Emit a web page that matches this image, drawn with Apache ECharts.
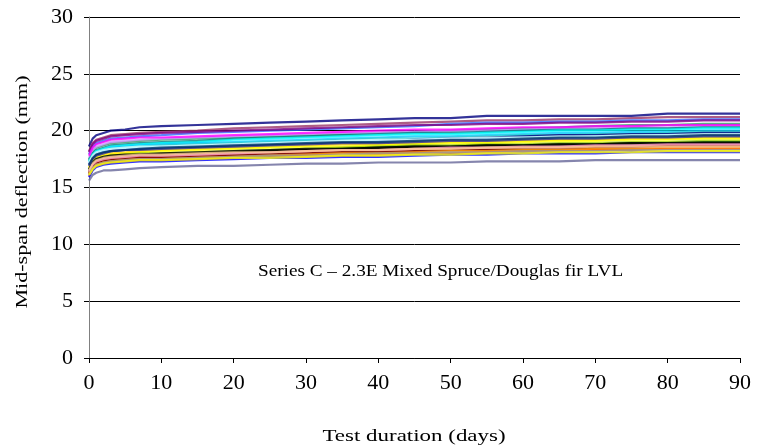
<!DOCTYPE html>
<html><head><meta charset="utf-8">
<script src="https://cdn.jsdelivr.net/npm/echarts@6/dist/echarts.min.js"></script>
<style>html,body{margin:0;padding:0;background:#fff}#c{width:758px;height:448px}</style>
</head><body><div id="c"></div>
<script>
var days = [0, 0.5, 1, 2, 3, 5, 7, 10, 15, 20, 25, 30, 35, 40, 45, 50, 55, 60, 65, 70, 75, 80, 85, 90];
var xTicks = [0, 10, 20, 30, 40, 50, 60, 70, 80, 90];
var yTicks = [0, 5, 10, 15, 20, 25, 30];
var colors = ['#000080','#993366','#3366FF','#800080','#339966','#CC99FF','#008080','#00FFFF','#00CCFF','#33CCCC','#000080','#99CCFF','#CCFFFF','#FFCC00','#FFFF00','#99CC00','#003300','#333300','#000000','#993300','#800000','#FF9900','#FF6600','#FF99CC','#FFCC99','#0000FF','#666699','#969696','#333399','#003366','#FF00FF','#FFFF00'];
var s1 = [18.6,19.3,19.6,19.8,20.0,20.1,20.3,20.4,20.5,20.6,20.7,20.8,20.9,21.0,21.1,21.1,21.3,21.3,21.3,21.3,21.3,21.5,21.5,21.5];
var s2 = [18.2,18.9,19.2,19.4,19.6,19.7,19.8,19.9,20.0,20.2,20.3,20.4,20.5,20.6,20.7,20.8,20.9,20.9,21.0,21.0,21.1,21.2,21.2,21.2];
var s3 = [17.9,18.6,18.9,19.1,19.3,19.4,19.5,19.6,19.8,19.9,20.0,20.1,20.2,20.3,20.4,20.6,20.7,20.7,20.8,20.8,20.9,20.9,21.0,21.0];
var s4 = [18.1,18.8,19.1,19.3,19.5,19.6,19.7,19.8,19.9,20.0,20.1,20.2,20.3,20.4,20.5,20.5,20.6,20.6,20.7,20.7,20.8,20.8,20.9,20.9];
var s5 = [17.5,18.2,18.5,18.7,18.9,19.0,19.1,19.2,19.3,19.4,19.5,19.6,19.7,19.8,19.9,20.0,20.1,20.2,20.3,20.4,20.5,20.5,20.6,20.6];
var s6 = [17.6,18.3,18.6,18.8,19.0,19.1,19.2,19.3,19.4,19.5,19.6,19.7,19.8,19.8,19.9,20.0,20.0,20.1,20.2,20.2,20.3,20.3,20.4,20.4];
var s7 = [17.4,18.0,18.3,18.5,18.7,18.8,18.9,19.0,19.1,19.3,19.4,19.5,19.6,19.7,19.8,19.8,19.9,20.0,20.1,20.1,20.2,20.2,20.3,20.3];
var s8 = [17.3,17.9,18.2,18.4,18.6,18.7,18.8,18.9,19.0,19.2,19.3,19.4,19.5,19.6,19.7,19.7,19.8,19.9,20.0,20.0,20.1,20.1,20.2,20.2];
var s9 = [17.2,17.8,18.1,18.3,18.5,18.6,18.7,18.8,18.9,19.0,19.1,19.2,19.3,19.4,19.5,19.5,19.6,19.7,19.8,19.8,19.9,19.9,20.0,20.0];
var s10 = [17.3,17.8,18.0,18.2,18.4,18.5,18.6,18.7,18.8,18.9,19.0,19.1,19.2,19.3,19.3,19.4,19.5,19.6,19.6,19.7,19.7,19.8,19.9,19.9];
var s11 = [17.0,17.6,17.9,18.1,18.2,18.3,18.4,18.5,18.6,18.7,18.8,18.9,19.0,19.1,19.2,19.3,19.4,19.5,19.6,19.6,19.7,19.7,19.8,19.8];
var s12 = [17.1,17.7,18.0,18.2,18.3,18.4,18.5,18.6,18.7,18.8,18.9,19.0,19.1,19.1,19.2,19.3,19.3,19.4,19.4,19.5,19.5,19.6,19.6,19.6];
var s13 = [17.2,17.8,18.1,18.3,18.4,18.5,18.6,18.6,18.7,18.8,18.9,19.0,19.1,19.2,19.2,19.3,19.4,19.4,19.5,19.5,19.6,19.6,19.7,19.7];
var s14 = [16.8,17.4,17.7,17.9,18.0,18.1,18.2,18.3,18.4,18.5,18.6,18.7,18.8,18.8,18.9,19.0,19.0,19.1,19.2,19.2,19.3,19.3,19.4,19.4];
var s15 = [16.7,17.3,17.6,17.8,17.9,18.0,18.1,18.2,18.3,18.4,18.5,18.6,18.6,18.7,18.8,18.9,18.9,19.0,19.1,19.1,19.2,19.2,19.3,19.3];
var s16 = [16.6,17.2,17.5,17.7,17.8,17.9,18.0,18.0,18.1,18.2,18.3,18.4,18.5,18.6,18.7,18.7,18.8,18.8,18.9,18.9,19.0,19.0,19.1,19.1];
var s17 = [16.5,17.1,17.4,17.6,17.7,17.8,17.9,17.9,18.0,18.1,18.2,18.3,18.4,18.5,18.6,18.6,18.7,18.7,18.8,18.8,18.9,18.9,19.0,19.0];
var s18 = [16.4,17.0,17.3,17.5,17.7,17.8,17.8,17.9,18.0,18.1,18.2,18.3,18.3,18.4,18.5,18.5,18.6,18.6,18.7,18.7,18.8,18.8,18.9,18.9];
var s19 = [16.6,17.2,17.5,17.7,17.8,17.9,17.9,18.0,18.1,18.2,18.3,18.4,18.4,18.5,18.6,18.6,18.7,18.7,18.8,18.8,18.9,18.9,18.9,18.9];
var s20 = [16.3,16.9,17.2,17.4,17.5,17.6,17.7,17.7,17.8,17.9,18.0,18.1,18.2,18.2,18.3,18.4,18.4,18.5,18.5,18.6,18.6,18.7,18.7,18.7];
var s21 = [16.2,16.8,17.1,17.3,17.4,17.5,17.6,17.6,17.7,17.8,17.9,18.0,18.1,18.1,18.2,18.3,18.3,18.4,18.4,18.5,18.5,18.6,18.6,18.6];
var s22 = [16.2,16.7,17.0,17.2,17.3,17.4,17.5,17.5,17.6,17.7,17.8,17.9,18.0,18.0,18.1,18.2,18.2,18.3,18.3,18.4,18.4,18.5,18.5,18.5];
var s23 = [16.0,16.6,16.9,17.1,17.2,17.3,17.4,17.4,17.5,17.6,17.7,17.8,17.8,17.9,18.0,18.0,18.1,18.2,18.2,18.3,18.3,18.4,18.4,18.4];
var s24 = [16.4,17.0,17.3,17.5,17.6,17.7,17.8,17.8,17.9,18.0,18.1,18.2,18.3,18.3,18.4,18.5,18.5,18.6,18.6,18.7,18.7,18.8,18.8,18.8];
var s25 = [16.5,17.1,17.4,17.6,17.7,17.8,17.9,17.9,18.0,18.1,18.1,18.2,18.3,18.3,18.4,18.4,18.5,18.5,18.5,18.6,18.6,18.6,18.6,18.6];
var s26 = [15.9,16.5,16.8,17.0,17.1,17.2,17.3,17.3,17.4,17.5,17.6,17.6,17.7,17.7,17.8,17.9,17.9,18.0,18.0,18.0,18.1,18.1,18.1,18.1];
var s27 = [15.6,16.1,16.3,16.5,16.5,16.6,16.7,16.8,16.9,16.9,17.0,17.1,17.1,17.2,17.2,17.2,17.3,17.3,17.3,17.4,17.4,17.4,17.4,17.4];
var s28 = [16.1,16.7,17.0,17.2,17.3,17.4,17.5,17.5,17.6,17.7,17.8,17.8,17.9,18.0,18.0,18.1,18.1,18.2,18.2,18.2,18.3,18.3,18.3,18.3];
var s29 = [16.9,17.5,17.8,18.0,18.2,18.3,18.3,18.4,18.5,18.6,18.7,18.8,18.9,18.9,19.0,19.1,19.1,19.2,19.3,19.3,19.4,19.4,19.5,19.5];
var s30 = [17.0,17.6,17.9,18.1,18.2,18.3,18.4,18.5,18.6,18.7,18.8,18.9,19.0,19.0,19.1,19.2,19.2,19.3,19.4,19.4,19.5,19.5,19.6,19.6];
var s31 = [17.8,18.5,18.8,19.0,19.2,19.3,19.4,19.4,19.5,19.6,19.7,19.8,19.9,20.0,20.1,20.1,20.2,20.3,20.3,20.4,20.4,20.5,20.5,20.5];
var s32 = [16.1,16.6,16.9,17.1,17.2,17.3,17.4,17.4,17.5,17.6,17.6,17.7,17.8,17.8,17.9,17.9,18.0,18.0,18.1,18.1,18.1,18.2,18.2,18.2];
var allSeries = [s1,s2,s3,s4,s5,s6,s7,s8,s9,s10,s11,s12,s13,s14,s15,s16,s17,s18,s19,s20,s21,s22,s23,s24,s25,s26,s27,s28,s29,s30,s31,s32];
var xTitle = 'Test duration (days)';
var yTitle = 'Mid-span deflection (mm)';
var annotation = 'Series C \u2013 2.3E Mixed Spruce/Douglas fir LVL';

var font = 'Liberation Serif, Times New Roman, serif';
var series = allSeries.map(function (vals, i) {
  return {
    type: 'line',
    data: days.map(function (d, j) { return [d, vals[j]]; }),
    showSymbol: false,
    symbol: 'none',
    lineStyle: { color: colors[i], width: 2.2, opacity: 0.8 },
    itemStyle: { color: colors[i] },
    emphasis: { disabled: true },
    silent: true,
    animation: false
  };
});

var chart = echarts.init(document.getElementById('c'), null, { renderer: 'canvas' });
chart.setOption({
  animation: false,
  backgroundColor: '#fff',
  grid: { left: 89, right: 18, top: 17, bottom: 90, containLabel: false },
  xAxis: {
    type: 'value', min: xTicks[0], max: xTicks[xTicks.length - 1], interval: 10,
    axisLine: { show: true, onZero: false, lineStyle: { color: '#000', width: 1 } },
    axisTick: { show: true, inside: false, length: 5, lineStyle: { color: '#000' } },
    axisLabel: { fontFamily: font, fontSize: 22, color: '#000', margin: 14 },
    splitLine: { show: false }
  },
  yAxis: {
    type: 'value', min: yTicks[0], max: yTicks[yTicks.length - 1], interval: 5,
    axisLine: { show: true, lineStyle: { color: '#808080', width: 1 } },
    axisTick: { show: true, inside: false, length: 5, lineStyle: { color: '#000' } },
    axisLabel: { fontFamily: font, fontSize: 22, color: '#000', margin: 16 },
    splitLine: { show: true, lineStyle: { color: '#000', width: 1 } }
  },
  graphic: [
    { type: 'text', x: 258, y: 272, scaleX: 1.2, silent: true,
      style: { x: 0, y: 0, text: annotation, font: '16px ' + font, fill: '#000', align: 'left', verticalAlign: 'middle' } },
    { type: 'text', x: 414, y: 437, scaleX: 1.35, silent: true,
      style: { x: 0, y: 0, text: xTitle, font: '17px ' + font, fill: '#000', align: 'center', verticalAlign: 'middle' } },
    { type: 'text', x: 23, y: 192, rotation: Math.PI / 2, scaleX: 1.3, silent: true,
      style: { x: 0, y: 0, text: yTitle, font: '17px ' + font, fill: '#000', align: 'center', verticalAlign: 'middle' } }
  ],
  series: series
});
</script></body></html>
